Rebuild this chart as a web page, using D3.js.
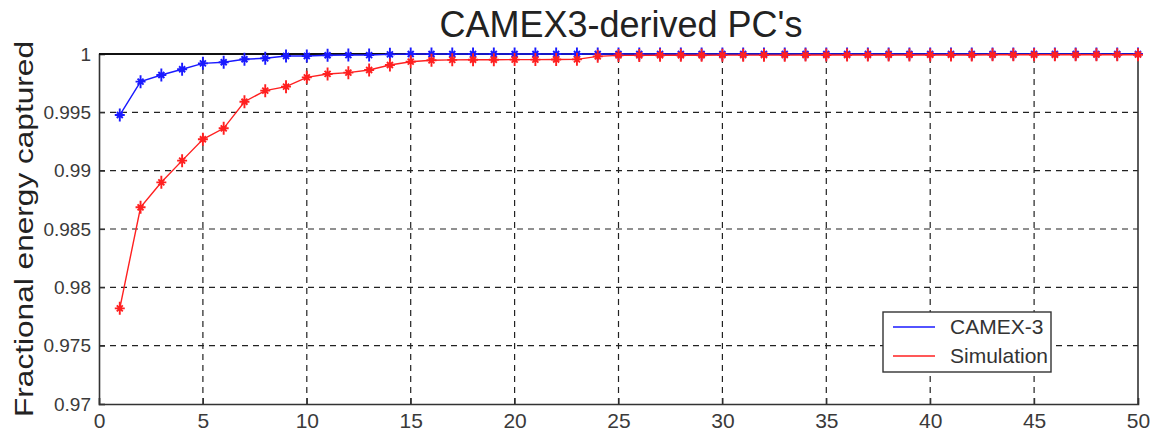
<!DOCTYPE html>
<html>
<head>
<meta charset="utf-8">
<script src="https://cdn.jsdelivr.net/npm/d3@7"></script>
<style>
  html, body { margin: 0; padding: 0; background: #fff; }
  svg { display: block; font-family: "Liberation Sans", Arial, sans-serif; }
</style>
</head>
<body>
<svg id="chart" width="1150" height="435"></svg>
<script>
// Number of principal components retained
const components = d3.range(1, 51);

// Fractional energy captured, CAMEX-3 data
const camexValues = [
  0.99477, 0.99763, 0.99820, 0.99869, 0.99920, 0.99929, 0.99955, 0.99963, 0.99983, 0.99983,
  0.99989, 0.99991, 0.99991, 0.99997, 1.00000, 1.00000, 1.00000, 1.00000, 1.00000, 1.00000,
  1.00000, 1.00000, 1.00000, 1.00000, 1.00000, 1.00000, 1.00000, 1.00000, 1.00000, 1.00000,
  1.00000, 1.00000, 1.00000, 1.00000, 1.00000, 1.00000, 1.00000, 1.00000, 1.00000, 1.00000,
  1.00000, 1.00000, 1.00000, 1.00000, 1.00000, 1.00000, 1.00000, 1.00000, 1.00000, 1.00000
];

// Fractional energy captured, simulation
const simValues = [
  0.97820, 0.98686, 0.98900, 0.99086, 0.99269, 0.99363, 0.99591, 0.99686, 0.99720, 0.99800,
  0.99829, 0.99840, 0.99863, 0.99906, 0.99934, 0.99946, 0.99950, 0.99951, 0.99951, 0.99952,
  0.99952, 0.99953, 0.99954, 0.99980, 0.99988, 0.99988, 0.99989, 0.99989, 0.99989, 0.99990,
  0.99990, 0.99990, 0.99990, 0.99991, 0.99991, 0.99991, 0.99991, 0.99992, 0.99992, 0.99992,
  0.99992, 0.99992, 0.99993, 0.99993, 0.99993, 0.99993, 0.99993, 0.99994, 0.99994, 0.99994
];

const xTicks = [0, 5, 10, 15, 20, 25, 30, 35, 40, 45, 50];
const yTicks = [0.97, 0.975, 0.98, 0.985, 0.99, 0.995, 1];
const yTickLabels = ["0.97", "0.975", "0.98", "0.985", "0.99", "0.995", "1"];

const seriesNames = ["CAMEX-3", "Simulation"];
const seriesColors = ["#1a1aff", "#ff2020"];

const svg = d3.select("#chart");
const margin = { left: 99, right: 12, top: 54, bottom: 31 };
const W = 1150, H = 435;
const x = d3.scaleLinear().domain([0, 50]).range([margin.left, W - margin.right]);
const y = d3.scaleLinear().domain([0.97, 1]).range([H - margin.bottom, margin.top]);

const x0 = x.range()[0], x1 = x.range()[1];
const yb = y.range()[0], yt = y.range()[1];

// Dashed grid
const grid = svg.append("g").attr("stroke", "#222").attr("stroke-width", 1.2)
  .attr("stroke-dasharray", "6,5");
grid.selectAll("line.gx").data(xTicks.slice(1, -1)).join("line")
  .attr("x1", d => x(d)).attr("x2", d => x(d)).attr("y1", yb).attr("y2", yt);
grid.selectAll("line.gy").data(yTicks.slice(1, -1)).join("line")
  .attr("x1", x0).attr("x2", x1).attr("y1", d => y(d)).attr("y2", d => y(d));

// Axes (ticks pointing inward, box around plot)
const axisColor = "#333";
const xAxis = d3.axisBottom(x).tickValues(xTicks).tickSize(-6).tickPadding(9);
const gx = svg.append("g").attr("transform", `translate(0,${yb})`).call(xAxis);
const yAxis = d3.axisLeft(y).tickValues(yTicks).tickSize(-6).tickPadding(8)
  .tickFormat((d, i) => yTickLabels[i]);
const gy = svg.append("g").attr("transform", `translate(${x0},0)`).call(yAxis);
[gx, gy].forEach(g => {
  g.select(".domain").attr("stroke", axisColor).attr("stroke-width", 1.6);
  g.selectAll(".tick line").attr("stroke", axisColor).attr("stroke-width", 1.2);
  g.selectAll(".tick text").attr("fill", "#3a3a3a")
    .attr("font-family", "'Liberation Sans', Arial, sans-serif");
});
gx.selectAll(".tick text").attr("font-size", 21);
gy.selectAll(".tick text").attr("font-size", 19);
svg.append("line").attr("x1", x1).attr("x2", x1).attr("y1", yt).attr("y2", yb)
  .attr("stroke", axisColor).attr("stroke-width", 1.6);
svg.append("line").attr("x1", x0).attr("x2", x1).attr("y1", yt).attr("y2", yt)
  .attr("stroke", "#111").attr("stroke-width", 2);

// Series lines with star markers
const line = d3.line().x(d => x(d[0])).y(d => y(d[1]));
const series = [camexValues, simValues];

function starPath(cx, cy, r) {
  const a = r * 0.6;
  return `M${cx},${cy - r * 1.3}L${cx},${cy + r * 1.3}` +
         `M${cx - r},${cy}L${cx + r},${cy}` +
         `M${cx - a},${cy - a}L${cx + a},${cy + a}` +
         `M${cx - a},${cy + a}L${cx + a},${cy - a}`;
}

series.forEach((vals, si) => {
  const pts = components.map((c, i) => [c, vals[i]]);
  const g = svg.append("g");
  g.append("path").datum(pts).attr("d", line).attr("fill", "none")
    .attr("stroke", seriesColors[si]).attr("stroke-width", 1.4);
  g.selectAll("path.mk").data(pts).join("path").attr("class", "mk")
    .attr("d", d => starPath(x(d[0]), y(d[1]), 5))
    .attr("stroke", seriesColors[si]).attr("stroke-width", 1.9).attr("fill", "none");
});

// Legend
const lg = svg.append("g");
lg.append("rect").attr("x", 883).attr("y", 312).attr("width", 168).attr("height", 60)
  .attr("fill", "#fff").attr("stroke", axisColor).attr("stroke-width", 1.4);
seriesNames.forEach((name, i) => {
  const ly = 327 + i * 29;
  lg.append("line").attr("x1", 893).attr("x2", 935).attr("y1", ly).attr("y2", ly)
    .attr("stroke", seriesColors[i]).attr("stroke-width", 1.4);
  lg.append("text").attr("x", 950).attr("y", ly + 7).attr("font-size", 21)
    .attr("fill", "#333").text(name);
});

// Title and axis label
svg.append("text").attr("x", 621).attr("y", 37).attr("text-anchor", "middle")
  .attr("font-size", 36).attr("fill", "#222").text("CAMEX3-derived PC's");
svg.append("text").attr("transform", `translate(33,229) rotate(-90)`)
  .attr("text-anchor", "middle").attr("font-size", 26).attr("fill", "#222")
  .attr("textLength", 376).attr("lengthAdjust", "spacingAndGlyphs")
  .text("Fractional energy captured");
</script>
</body>
</html>
